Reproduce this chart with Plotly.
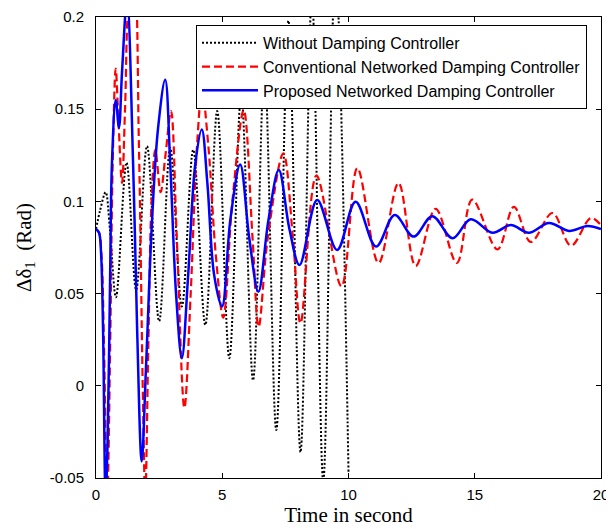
import plotly.graph_objects as go

# ---- data ----
t_without = [0.0, 0.16, 0.38, 0.55, 0.79, 1.21, 1.59, 2.02, 2.50, 2.94, 3.40, 3.85, 4.33,
             4.80, 5.28, 5.75, 6.22, 6.67, 7.14, 7.62, 8.10, 8.55, 9.00, 9.48, 10.0]
y_without = [0.085, 0.095, 0.105, 0.085, 0.048, 0.121, 0.052, 0.130, 0.035, 0.129, 0.043, 0.128, 0.033,
             0.149, 0.015, 0.158, 0.003, 0.172, -0.024, 0.198, -0.036, 0.212, -0.052, 0.228, -0.047]

t_conv = [0.0, 0.12, 0.22, 0.32, 0.44, 0.56, 0.66, 0.78, 0.87, 1.03, 1.15, 1.30, 1.51, 1.70, 1.85,
          1.95, 2.07, 2.20, 2.35, 2.56, 2.75, 2.97, 3.20, 3.50, 3.75, 4.00, 4.20, 4.45, 4.75, 5.04,
          5.40, 5.85, 6.20, 6.44, 6.80, 7.42, 7.80, 8.10, 8.73, 9.72, 10.35, 11.19, 11.98, 12.66,
          13.45, 14.29, 14.90, 15.90, 16.55, 17.22, 18.08, 18.81, 19.60, 20.0]
y_conv = [0.085, 0.083, 0.070, 0.020, -0.065, 0.020, 0.120, 0.172, 0.150, 0.110, 0.150, 0.210, 0.225, 0.130, 0.000,
          -0.060, 0.020, 0.100, 0.128, 0.105, 0.125, 0.149, 0.080, -0.012, 0.050, 0.130, 0.160, 0.130, 0.070, 0.037,
          0.100, 0.1495, 0.080, 0.032, 0.080, 0.126, 0.080, 0.034, 0.114, 0.054, 0.118, 0.0666, 0.110, 0.065,
          0.096, 0.0666, 0.101, 0.074, 0.097, 0.078, 0.0937, 0.076, 0.091, 0.087]

t_prop = [0.0, 0.12, 0.20, 0.28, 0.38, 0.46, 0.56, 0.63, 0.78, 0.91, 1.03, 1.23, 1.47, 1.63, 1.81,
          1.98, 2.22, 2.46, 2.74, 2.94, 3.17, 3.40, 3.65, 3.93, 4.19, 4.41, 4.68, 4.99, 5.32, 5.71,
          6.07, 6.43, 6.83, 7.24, 7.66, 8.06, 8.76, 9.55, 10.28, 11.09, 11.83, 12.58, 13.32, 14.12,
          14.84, 15.70, 16.43, 17.14, 17.94, 18.73, 19.47, 20.0]
y_prop = [0.085, 0.083, 0.072, 0.030, -0.060, -0.030, 0.060, 0.120, 0.155, 0.140, 0.170, 0.210, 0.120, 0.030, -0.041,
          0.010, 0.090, 0.140, 0.166, 0.120, 0.050, 0.015, 0.060, 0.120, 0.139, 0.110, 0.060, 0.043, 0.090, 0.120,
          0.080, 0.051, 0.090, 0.117, 0.085, 0.0655, 0.1008, 0.0737, 0.0998, 0.0755, 0.0926, 0.0809, 0.092, 0.080,
          0.0903, 0.083, 0.0872, 0.083, 0.0883, 0.084, 0.0867, 0.085]

names = ["Without Damping Controller",
         "Conventional Networked Damping Controller",
         "Proposed Networked Damping Controller"]

x_ticks = [0, 5, 10, 15, 20]
x_ticktext = ["0", "5", "10", "15", "20"]
y_ticks = [-0.05, 0, 0.05, 0.1, 0.15, 0.2]
y_ticktext = ["-0.05", "0", "0.05", "0.1", "0.15", "0.2"]

fig = go.Figure()
fig.add_trace(go.Scatter(x=t_without, y=y_without, mode="lines", name=names[0],
                         line=dict(color="black", width=2, dash="2px,2px", shape="spline", smoothing=1.0)))
fig.add_trace(go.Scatter(x=t_conv, y=y_conv, mode="lines", name=names[1],
                         line=dict(color="#ff0000", width=2.2, dash="8px,4px", shape="spline", smoothing=1.0)))
fig.add_trace(go.Scatter(x=t_prop, y=y_prop, mode="lines", name=names[2],
                         line=dict(color="#0000ff", width=2.5, shape="spline", smoothing=1.0)))

axis_common = dict(showline=True, linecolor="black", linewidth=1, mirror="ticks",
                   ticks="inside", ticklen=5, tickcolor="black", showgrid=False, zeroline=False,
                   tickfont=dict(family="Liberation Sans, Arial", size=15, color="black"))

fig.update_xaxes(range=[0, 20], tickvals=x_ticks, ticktext=x_ticktext,
                 title=dict(text="Time in second", standoff=2,
                            font=dict(family="Liberation Serif, Times New Roman", size=21, color="black")),
                 ticklabelstandoff=3, **axis_common)
fig.update_yaxes(range=[-0.05, 0.2], tickvals=y_ticks, ticktext=y_ticktext,
                 title=dict(text="Δδ<sub>1</sub>  (Rad)", standoff=12,
                            font=dict(family="Liberation Serif, Times New Roman", size=21, color="black")),
                 ticklabelstandoff=8, **axis_common)

fig.update_layout(
    width=606, height=521,
    margin=dict(l=88, r=13, t=9, b=51, autoexpand=False),
    paper_bgcolor="white", plot_bgcolor="white",
    showlegend=True,
    legend=dict(x=0.198, y=0.983, xanchor="left", yanchor="top",
                bgcolor="white", bordercolor="black", borderwidth=1,
                font=dict(family="Liberation Sans, Arial", size=16, color="black"),
                itemwidth=56, tracegroupgap=0),
)

fig.write_html("out.html")
